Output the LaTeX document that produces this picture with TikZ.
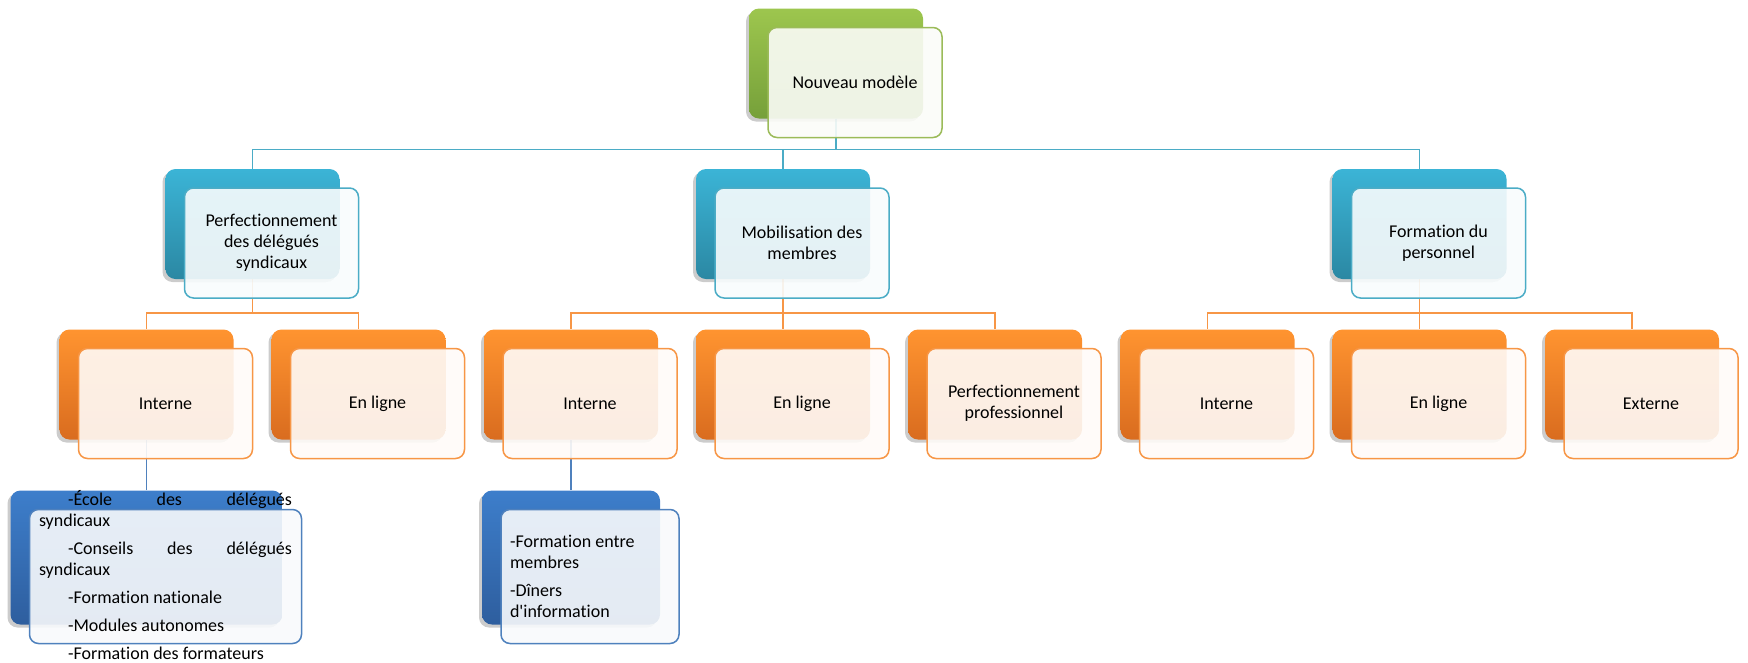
\documentclass[tikz,border=0pt]{standalone}
\usepackage{fontspec}
\setmainfont{Carlito}[Ligatures={TeXOff,NoCommon}]
\usetikzlibrary{shadows}
\definecolor{vert}{HTML}{9BBB59}
\definecolor{verthaut}{HTML}{9DC64E}
\definecolor{vertbas}{HTML}{76A03A}
\definecolor{bleu}{HTML}{4BACC6}
\definecolor{bleuhaut}{HTML}{3BB4D6}
\definecolor{bleubas}{HTML}{2B88A3}
\definecolor{orange}{HTML}{F79646}
\definecolor{orangehaut}{HTML}{FF9430}
\definecolor{orangebas}{HTML}{D96C1F}
\definecolor{marine}{HTML}{4F81BD}
\definecolor{marinehaut}{HTML}{3D7ECB}
\definecolor{marinebas}{HTML}{2E5E9E}
\pgfdeclarelayer{fond}
\pgfsetlayers{fond,main}
\tikzset{
	backbox/.style={rounded corners=10pt, minimum width=174pt, minimum height=110pt, inner sep=0pt,
		top color=#1haut, bottom color=#1bas,
		drop shadow={shadow xshift=-3pt, shadow yshift=-3pt, opacity=.2, fill=black}},
	frontbox/.style={rounded corners=9pt, minimum width=174pt, minimum height=110pt, inner sep=0pt,
		draw=#1, line width=1.5pt, fill=#1!4, fill opacity=.9, text opacity=1,
		align=center, font=\fontsize{18}{21}\selectfont},
	lien/.style={draw=#1, line width=1.5pt},
	liste/.style={inner sep=0pt, align=flush left, font=\fontsize{18}{21}\selectfont}
}

\begin{document}
\begin{tikzpicture}[x=1pt, y=-1pt]
	\useasboundingbox (0,0) rectangle (1748,662);
	
	% niveau 1
	\node[backbox=vert] (modeleb) at (836,63.5) {};
	\node[frontbox=vert] (modele) at (855,82.5) {Nouveau modèle};
	
	% niveau 2
	\node[backbox=bleu] (delegb) at (252.5,224) {};
	\node[frontbox=bleu] (deleg) at (271.5,243) {Perfectionnement\\des délégués\\syndicaux};
	\node[backbox=bleu] (mobilb) at (783,224) {};
	\node[frontbox=bleu] (mobil) at (802,243) {Mobilisation des\\membres};
	\node[backbox=bleu] (persob) at (1419.5,224) {};
	\node[frontbox=bleu] (perso) at (1438.5,243) {Formation du\\personnel};
	
	% niveau 3
	\node[backbox=orange] (dinterb) at (146.5,384.5) {};
	\node[frontbox=orange] (dinter) at (165.5,403.5) {Interne};
	\node[backbox=orange] (dligneb) at (358.5,384.5) {};
	\node[frontbox=orange] (dligne) at (377.5,403.5) {En ligne};
	\node[backbox=orange] (minterb) at (571,384.5) {};
	\node[frontbox=orange] (minter) at (590,403.5) {Interne};
	\node[backbox=orange] (mligneb) at (783,384.5) {};
	\node[frontbox=orange] (mligne) at (802,403.5) {En ligne};
	\node[backbox=orange] (mprofb) at (995,384.5) {};
	\node[frontbox=orange] (mprof) at (1014,403.5) {Perfectionnement\\professionnel};
	\node[backbox=orange] (pinterb) at (1207.5,384.5) {};
	\node[frontbox=orange] (pinter) at (1226.5,403.5) {Interne};
	\node[backbox=orange] (pligneb) at (1419.5,384.5) {};
	\node[frontbox=orange] (pligne) at (1438.5,403.5) {En ligne};
	\node[backbox=orange] (pexterb) at (1632,384.5) {};
	\node[frontbox=orange] (pexter) at (1651,403.5) {Externe};
	
	% niveau 4
	\node[backbox=marine, minimum width=272pt, minimum height=134pt] (ecoleb) at (146.5,557.5) {};
	\node[frontbox=marine, minimum width=272pt, minimum height=134pt] (ecole) at (165.5,576.5) {};
	\node[liste, text width=253pt] (ecolet) at ([yshift=1.5pt]ecole.center) {%
		\hspace*{29pt}-École\hfill des\hfill délégués\\
		syndicaux\\[7pt]
		\hspace*{29pt}-Conseils\hfill des\hfill délégués\\
		syndicaux\\[7pt]
		\hspace*{29pt}-Formation nationale\\[7pt]
		\hspace*{29pt}-Modules autonomes\\[7pt]
		\hspace*{29pt}-Formation des formateurs};
	\node[backbox=marine, minimum width=178pt, minimum height=134pt] (membresb) at (571,557.5) {};
	\node[frontbox=marine, minimum width=178pt, minimum height=134pt] (membres) at (590,576.5) {};
	\node[liste, text width=160pt] (membrest) at (membres.center) {%
		-Formation entre\\
		membres\\[7pt]
		-Dîners\\
		d'information};
	
	% liens
	\begin{pgfonlayer}{fond}
		\draw[lien=bleu] (modeleb.south) -- ++(0,31) -| (delegb.north);
		\draw[lien=bleu] (modeleb.south) -- ++(0,31) -| (mobilb.north);
		\draw[lien=bleu] (modeleb.south) -- ++(0,31) -| (persob.north);
		\draw[lien=orange] (delegb.south) -- ++(0,34) -| (dinterb.north);
		\draw[lien=orange] (delegb.south) -- ++(0,34) -| (dligneb.north);
		\draw[lien=orange] (mobilb.south) -- ++(0,34) -| (minterb.north);
		\draw[lien=orange] (mobilb.south) -- ++(0,34) -| (mligneb.north);
		\draw[lien=orange] (mobilb.south) -- ++(0,34) -| (mprofb.north);
		\draw[lien=orange] (persob.south) -- ++(0,34) -| (pinterb.north);
		\draw[lien=orange] (persob.south) -- ++(0,34) -| (pligneb.north);
		\draw[lien=orange] (persob.south) -- ++(0,34) -| (pexterb.north);
		\draw[lien=marine] (dinterb.south) -- (ecoleb.north);
		\draw[lien=marine] (minterb.south) -- (membresb.north);
	\end{pgfonlayer}
\end{tikzpicture}
\end{document}
